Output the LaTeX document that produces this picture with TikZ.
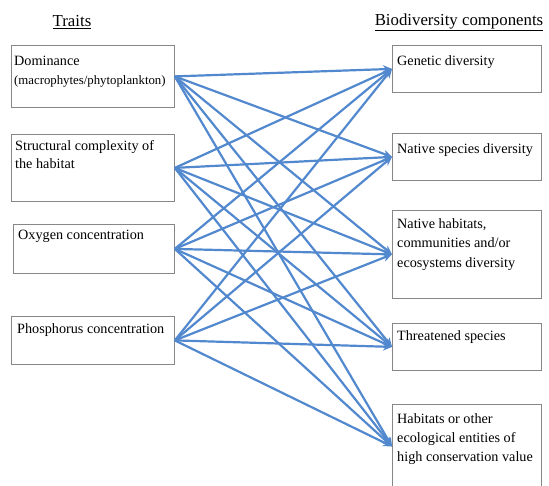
\documentclass[tikz,border=0pt]{standalone}
\usepackage{fontspec}
\setmainfont{Liberation Serif}
\usetikzlibrary{arrows.meta}
\definecolor{linkblue}{RGB}{82,136,206}
\definecolor{boxgray}{RGB}{135,135,135}

\begin{document}
\begin{tikzpicture}[x=1pt,y=-1pt,
    box/.style={draw=boxgray,line width=0.8pt,anchor=north west,inner sep=0pt},
    txt/.style={anchor=north west,align=left,inner sep=0pt,font=\fontsize{14.2}{18}\selectfont},
    head/.style={font=\fontsize{16.8}{18}\selectfont},
    link/.style={draw=linkblue,line width=2.2pt,-{Stealth[length=9pt,width=8pt]}}]
  \useasboundingbox (0,0) rectangle (549,485);
  % headings
  \node[head] (traits) at (72,22) {\underline{Traits}};
  \node[head] (bio) at (459,22) {\underline{Biodiversity components}};
  % traits (left column)
  \node[box,minimum width=163,minimum height=62] (dom) at (11,45) {};
  \node[box,minimum width=163,minimum height=67] (str) at (11,134) {};
  \node[box,minimum width=161,minimum height=49] (oxy) at (13,224) {};
  \node[box,minimum width=163,minimum height=48] (pho) at (11,316) {};
  \node[txt] (dom-t) at (14,56) {Dominance\\[1pt]{\fontsize{12.8}{14}\selectfont(macrophytes/phytoplankton)}};
  \node[txt] (str-t) at (15,140) {Structural complexity of\\the habitat};
  \node[txt] (oxy-t) at (18,230) {Oxygen concentration};
  \node[txt] (pho-t) at (17,323) {Phosphorus concentration};
  % biodiversity components (right column)
  \node[box,minimum width=149,minimum height=47] (gen) at (392,45) {};
  \node[box,minimum width=149,minimum height=47] (nat) at (392,133) {};
  \node[box,minimum width=149,minimum height=88] (hab) at (392,210) {};
  \node[box,minimum width=149,minimum height=84] (con) at (392,404) {};
  \node[box,minimum width=149,minimum height=47] (thr) at (392,323) {};
  \node[txt] (gen-t) at (397,55) {Genetic diversity};
  \node[txt] (nat-t) at (397,143) {Native species diversity};
  \node[txt,font=\fontsize{14.2}{19.5}\selectfont] (hab-t) at (397,218) {Native habitats,\\communities and/or\\ecosystems diversity};
  \node[txt] (thr-t) at (397,330) {Threatened species};
  \node[txt,font=\fontsize{14.2}{19}\selectfont] (con-t) at (397,413) {Habitats or other\\ecological entities of\\high conservation value};
  % every trait to every component
  \foreach \t in {dom,str,oxy,pho}
    \foreach \c in {gen,nat,hab,thr,con}
      \draw[link] (\t.east) -- (\c.west);
\end{tikzpicture}
\end{document}
